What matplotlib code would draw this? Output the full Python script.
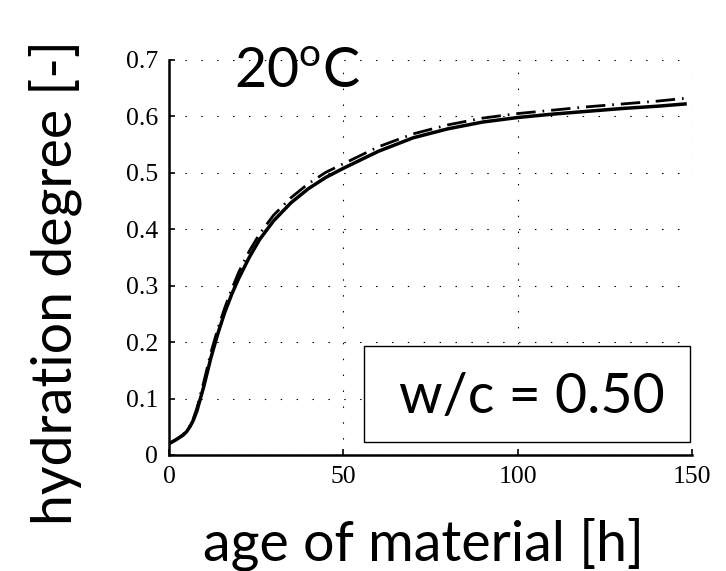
import matplotlib.pyplot as plt
from matplotlib.patches import Rectangle

# age of material [h]
age = [0, 2, 4, 5, 6, 7, 8, 10, 12, 14, 16, 18, 20, 23, 26, 30, 35, 40, 45, 50,
       60, 70, 80, 90, 100, 110, 120, 130, 140, 148]
# hydration degree, solid curve
alpha_solid = [0.020, 0.027, 0.035, 0.041, 0.050, 0.062, 0.078, 0.122, 0.172, 0.215,
               0.253, 0.285, 0.313, 0.350, 0.382, 0.415, 0.447, 0.472, 0.492, 0.508,
               0.538, 0.562, 0.578, 0.590, 0.598, 0.604, 0.609, 0.614, 0.618, 0.622]
# hydration degree, dashed curve
alpha_dash = [0.020, 0.027, 0.036, 0.042, 0.052, 0.065, 0.083, 0.130, 0.181, 0.224,
              0.261, 0.294, 0.324, 0.361, 0.392, 0.425, 0.456, 0.481, 0.501, 0.516,
              0.546, 0.569, 0.585, 0.597, 0.605, 0.611, 0.617, 0.622, 0.627, 0.632]

xticks = [0, 50, 100, 150]
yticks = [0, 0.1, 0.2, 0.3, 0.4, 0.5, 0.6, 0.7]
ytick_labels = ["0", "0.1", "0.2", "0.3", "0.4", "0.5", "0.6", "0.7"]

plt.rcParams['mathtext.fontset'] = 'custom'
plt.rcParams['mathtext.rm'] = 'Lato'
label_font = 'Lato'

fig = plt.figure(figsize=(7.26, 5.71), dpi=100)
ax = fig.add_axes([0.2328, 0.2032, 0.7204, 0.6918])

ax.plot(age, alpha_dash, color='black', lw=2.0, linestyle=(0, (7, 2.5, 0.6, 2.5)))
ax.plot(age, alpha_solid, color='black', lw=2.5)

ax.set_xlim(0, 150)
ax.set_ylim(0, 0.7)
ax.set_xticks(xticks)
ax.set_xticklabels([str(v) for v in xticks])
ax.set_yticks(yticks)
ax.set_yticklabels(ytick_labels)

# only left/bottom spines are solid, top/right are part of the dotted grid
ax.spines['top'].set_visible(False)
ax.spines['right'].set_visible(False)
ax.spines['left'].set_linewidth(1.8)
ax.spines['bottom'].set_linewidth(1.8)
ax.grid(True, color='black', lw=0.8, linestyle=(0, (1.3, 13)))
ax.set_axisbelow(True)
ax.tick_params(direction='in', length=4, width=1.2, pad=8, labelsize=18.5,
               labelfontfamily='Liberation Serif')

# w/c box
ax.add_patch(Rectangle((56, 0.023), 93.5, 0.170, fill=True, facecolor='white',
                       edgecolor='black', lw=1.0, zorder=5))
ax.text(104, 0.102, "w/c = 0.50", family=label_font, fontsize=40,
        ha='center', va='center', zorder=6)

ax.text(0.245, 0.929, "20$^{\\mathrm{o}}$C", transform=ax.transAxes,
        family=label_font, fontsize=40, ha='center', va='baseline')

fig.text(0.583, 0.019, "age of material [h]", family=label_font, fontsize=40,
         ha='center', va='baseline')
fig.text(0.076, 0.506, "hydration degree [-]", family=label_font, fontsize=40,
         rotation=90, ha='center', va='center')

fig.savefig("out.png", dpi=100)
